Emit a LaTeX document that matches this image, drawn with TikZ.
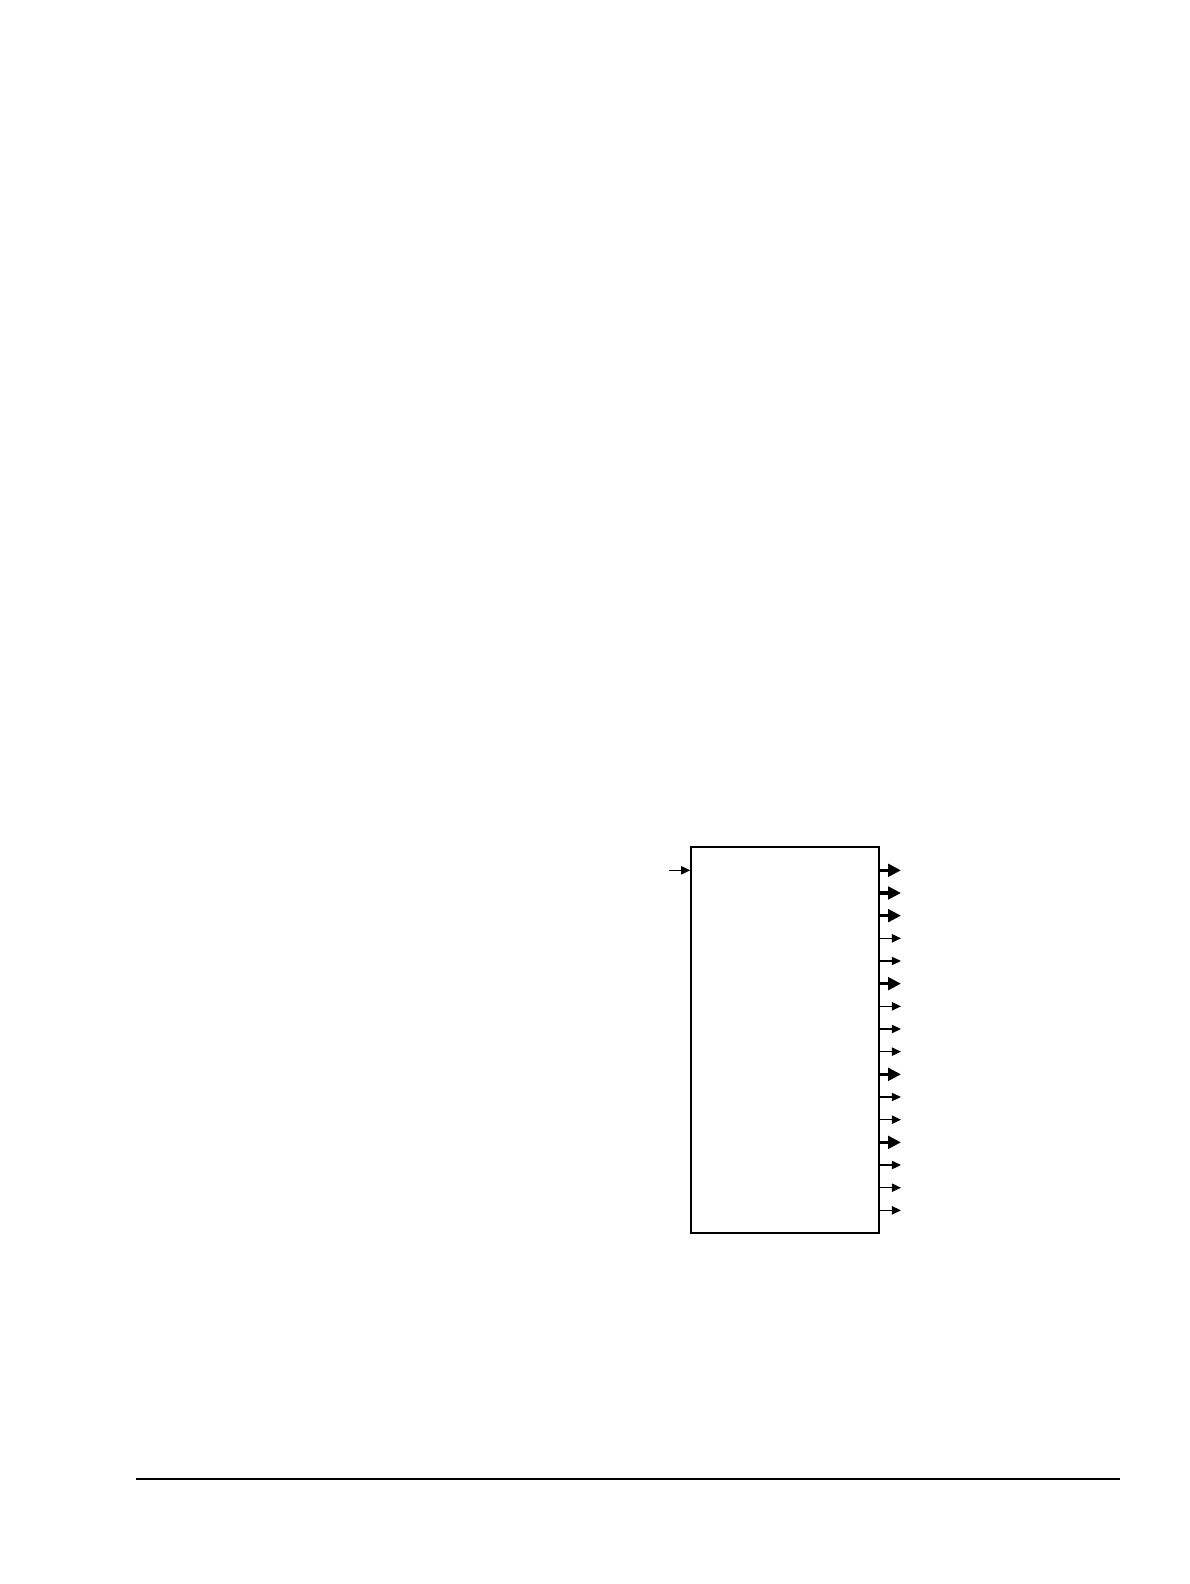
\documentclass[tikz,border=0pt]{standalone}
\usetikzlibrary{arrows.meta}
\tikzset{
  blockbox/.style={draw, line width=0.75bp, minimum width=94bp, minimum height=193bp, inner sep=0pt},
  thinout/.style={line width=0.65bp, -{Triangle[length=4.6bp, width=4.2bp]}},
  thickout/.style={line width=1.8bp, -{Triangle[length=6.4bp, width=6.2bp]}}
}
\begin{document}
\begin{tikzpicture}[x=0.5bp, y=-0.5bp]
\useasboundingbox (0,0) rectangle (1190,1584);

\node[blockbox] (blk) at (785,1040) {};

\coordinate (in) at (669,870.3);
\draw [thinout] (in) -- (blk.west |- in);

\foreach \i/\w in {1/thickout,2/thickout,3/thickout,4/thinout,5/thinout,6/thickout,7/thinout,8/thinout,
                   9/thinout,10/thickout,11/thinout,12/thinout,13/thickout,14/thinout,15/thinout,16/thinout} {
  \coordinate (o\i) at (901,{870.3+(\i-1)*22.67});
  \draw [\w] (blk.east |- o\i) -- (o\i);
}

\coordinate (ruleA) at (136,1479.3);
\coordinate (ruleB) at (1120,1479.3);
\draw [line width=0.9bp] (ruleA) -- (ruleB);

\end{tikzpicture}
\end{document}
